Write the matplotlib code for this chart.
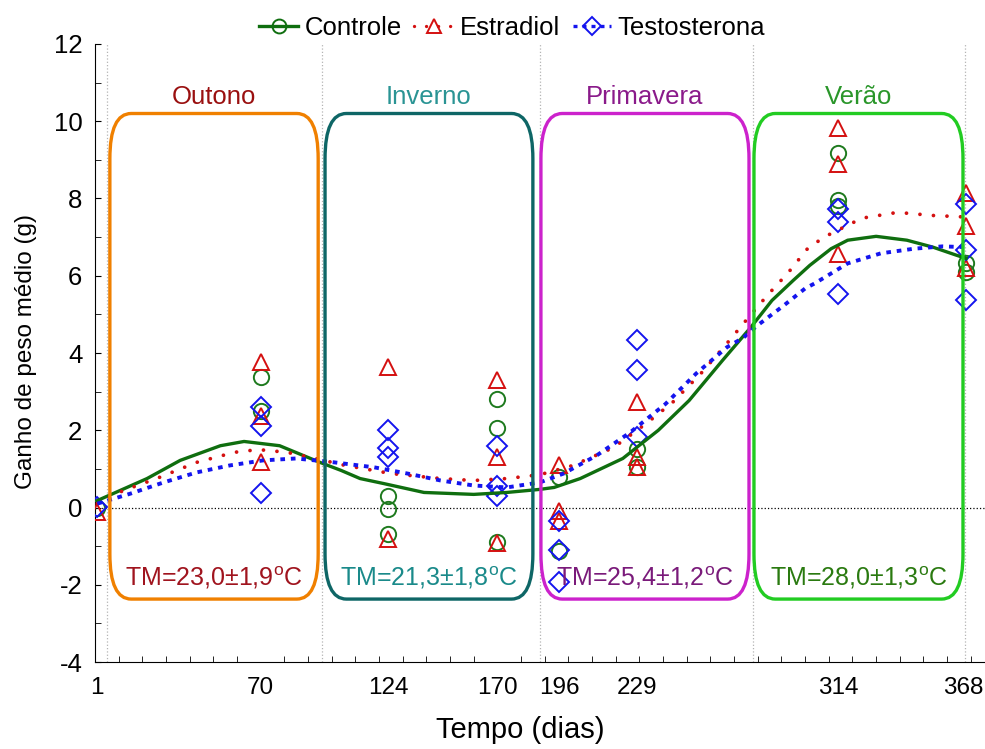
import matplotlib
matplotlib.use("Agg")
import matplotlib.pyplot as plt
from matplotlib.patches import FancyBboxPatch
from matplotlib.lines import Line2D
from matplotlib.transforms import ScaledTranslation

plt.rcParams["font.family"] = ["Liberation Sans", "DejaVu Sans"]
plt.rcParams["mathtext.fontset"] = "custom"
plt.rcParams["mathtext.rm"] = "Liberation Sans"
plt.rcParams["axes.unicode_minus"] = False

# sampling days (x tick labels)
days = [1, 70, 124, 170, 196, 229, 314, 368]

# observed points per day (one list per day)
controle_pts = [[0.0], [3.38, 2.5], [0.31, -0.05, -0.68], [2.82, 2.07, -0.88],
                [0.78, -1.12], [1.52, 1.05], [9.17, 7.95, 7.8], [6.32, 6.1]]
estradiol_pts = [[-0.12], [3.76, 2.36, 1.17], [3.63, -0.82], [3.29, 1.3, -0.93],
                 [1.09, -0.08, -0.34], [2.73, 1.3, 1.05], [9.82, 8.9, 6.55],
                 [8.13, 7.28, 6.19]]
testo_pts = [[0.02], [2.6, 2.1, 0.38], [2.0, 1.55, 1.32], [1.58, 0.57, 0.29],
             [-0.34, -1.1, -1.94], [4.33, 3.55, 1.82], [7.72, 7.38, 5.54],
             [7.87, 6.66, 5.36]]

# fitted curves
controle_cd = [1, 22, 36, 53, 63, 78, 95, 104, 112, 122, 139, 160, 174, 188, 194,
               205, 223, 231, 238, 251, 265, 277, 286, 295, 302, 311, 318, 330,
               343, 354, 364, 368]
controle_cv = [0.18, 0.75, 1.22, 1.6, 1.71, 1.6, 1.17, 0.96, 0.75, 0.62, 0.39, 0.34,
               0.39, 0.47, 0.52, 0.75, 1.27, 1.66, 2.0, 2.77, 3.8, 4.66, 5.36, 5.88,
               6.27, 6.7, 6.92, 7.02, 6.92, 6.74, 6.53, 6.45]
estradiol_cd = [1, 12, 26, 43, 59, 69, 81, 91, 105, 125, 146, 160, 174, 188, 202,
                219, 233, 244, 256, 267, 275, 284, 293, 301, 308, 324, 339, 354, 368]
estradiol_cv = [0.1, 0.44, 0.75, 1.17, 1.43, 1.5, 1.43, 1.3, 1.1, 0.88, 0.75, 0.7,
                0.75, 0.85, 1.09, 1.55, 2.18, 2.72, 3.47, 4.25, 4.84, 5.49, 6.09,
                6.7, 7.0, 7.49, 7.64, 7.56, 7.52]
testo_cd = [1, 15, 29, 43, 57, 71, 85, 101, 118, 132, 146, 160, 174, 188, 198, 212,
            226, 241, 254, 267, 274, 280, 291, 300, 304, 318, 332, 346, 358, 368]
testo_cv = [0.1, 0.36, 0.65, 0.91, 1.09, 1.22, 1.27, 1.17, 1.04, 0.88, 0.7, 0.57,
            0.52, 0.65, 0.88, 1.35, 1.94, 2.68, 3.47, 4.15, 4.4, 4.72, 5.23, 5.67,
            5.8, 6.32, 6.58, 6.7, 6.76, 6.74]

# seasons
seasons = ["Outono", "Inverno", "Primavera", "Verão"]
season_start = [6.3, 97.2, 188.4, 278.4]
season_end = [94.3, 185.0, 276.3, 366.7]
season_tm = ["23,0±1,9", "21,3±1,8", "25,4±1,2", "28,0±1,3"]
season_edge = ["#F08000", "#0E6666", "#CC22CC", "#22CC22"]
season_title_col = ["#9A1010", "#2A9494", "#8A1A8A", "#2A962A"]
season_tm_col = ["#A0141E", "#1A8A8A", "#7A1A7A", "#2A7A10"]
grid_days = [5.3, 96.1, 187.9, 277.8, 367.7]

fig = plt.figure(figsize=(9.85, 7.49), dpi=100)
ax = fig.add_axes([0.0964, 0.1161, 0.9036, 0.8252])
ax.set_xlim(0, 376)
ax.set_ylim(-4, 12)

for g in grid_days:
    ax.axvline(g, color="#b4b4b4", ls=":", lw=0.9, zorder=0)
ax.axhline(0, color="black", ls=":", lw=0.9, zorder=1)

green, red, blue = "#0F6E0F", "#D41010", "#1414EE"
red_dots = (0, (0.01, 3.6))
blue_dash = (0, (1.2, 1.5))
msz = 11

def scatter_group(pts, marker, color, size):
    for d, vals in zip(days, pts):
        ax.plot([d] * len(vals), vals, ls="none", marker=marker, ms=size,
                mfc="none", mec=color, mew=1.4, zorder=3)

scatter_group(controle_pts, "o", "#1E7A1E", msz)
scatter_group(estradiol_pts, "^", red, msz)
scatter_group(testo_pts, "D", blue, msz - 1)

ax.plot(controle_cd, controle_cv, color=green, lw=2.4, zorder=4)
ax.plot(estradiol_cd, estradiol_cv, color=red, lw=2.7, ls=red_dots,
        dash_capstyle="round", zorder=4)
ax.plot(testo_cd, testo_cv, color=blue, lw=2.8, ls=blue_dash,
        dash_capstyle="butt", zorder=4)

box_bottom, box_top = -2.37, 10.2
for i, name in enumerate(seasons):
    x0, x1 = season_start[i], season_end[i]
    patch = FancyBboxPatch((x0, box_bottom), x1 - x0, box_top - box_bottom,
                           boxstyle="round,pad=0,rounding_size=9",
                           mutation_aspect=0.13, fill=False,
                           ec=season_edge[i], lw=2.4, zorder=5)
    ax.add_patch(patch)
    xc = (x0 + x1) / 2
    ax.text(xc, 10.62, name, color=season_title_col[i], fontsize=18.5,
            ha="center", va="center")
    ax.text(xc, -1.82, "TM=" + season_tm[i] + r"$^\mathrm{o}$C",
            color=season_tm_col[i], fontsize=18, ha="center", va="center",
            zorder=6)

ax.spines["top"].set_visible(False)
ax.spines["right"].set_visible(False)
ax.spines["left"].set_bounds(-4, 12)

ax.set_yticks(range(-4, 13, 2))
ax.set_yticks(range(-4, 13, 1), minor=True)
ax.tick_params(axis="y", which="both", direction="in", length=4, labelsize=18.5,
               pad=9)
ax.set_xticks(days)
ax.set_xticklabels([str(d) for d in days])
ax.set_xticks(range(10, 376, 10), minor=True)
ax.tick_params(axis="x", which="major", length=0, labelsize=17.5, pad=11)
ax.tick_params(axis="x", which="minor", direction="in", length=4)
# last label sits against the right edge, shift it in by a few pixels
last = ax.get_xticklabels()[-1]
last.set_transform(last.get_transform() + ScaledTranslation(-3 / 100, 0, fig.dpi_scale_trans))

fig.text(520 / 985, 0.026, "Tempo (dias)", fontsize=21, ha="center",
         va="center")
fig.text(0.026, 0.531, "Ganho de peso médio (g)", fontsize=17.5, rotation=90,
         ha="center", va="center")

handles = [
    Line2D([], [], color=green, lw=2.4, marker="o", mfc="none", mec=green,
           ms=10, mew=1.4),
    Line2D([], [], color=red, lw=2.4, ls=red_dots, marker="^",
           mfc="none", mec=red, ms=10, mew=1.4, dash_capstyle="round"),
    Line2D([], [], color=blue, lw=2.4, ls=blue_dash, marker="D",
           mfc="none", mec=blue, ms=9, mew=1.4),
]
fig.legend(handles, ["Controle", "Estradiol", "Testosterona"], loc="center",
           bbox_to_anchor=(0.52, 0.963), ncol=3, frameon=False, fontsize=18.5,
           handlelength=1.5, handletextpad=0.25, columnspacing=0.5)

fig.savefig("out.png", dpi=100)
